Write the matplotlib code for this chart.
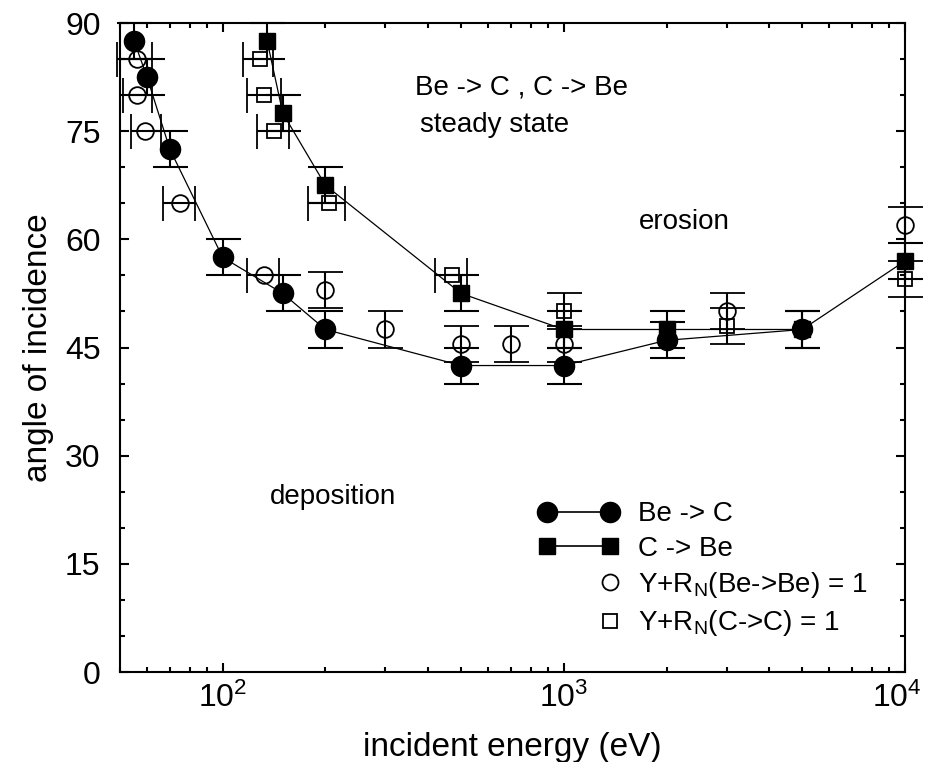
import matplotlib
matplotlib.use('Agg')
import matplotlib.pyplot as plt
import numpy as np
from matplotlib.lines import Line2D
from matplotlib.legend_handler import HandlerLine2D
from matplotlib.transforms import ScaledTranslation
from matplotlib.ticker import MultipleLocator, LogLocator, NullFormatter

plt.rcParams['font.family'] = ['Liberation Sans', 'DejaVu Sans']
plt.rcParams['mathtext.fontset'] = 'custom'
plt.rcParams['mathtext.rm'] = 'Liberation Sans'
plt.rcParams['mathtext.it'] = 'Liberation Sans:italic'
plt.rcParams['mathtext.bf'] = 'Liberation Sans:bold'

# Be -> C (filled circles)
energy_be_c = [55, 60, 70, 100, 150, 200, 500, 1000, 2000, 5000]
angle_be_c = [87.5, 82.5, 72.5, 57.5, 52.5, 47.5, 42.5, 42.5, 46, 47.5]

# C -> Be (filled squares)
energy_c_be = [135, 150, 200, 500, 1000, 2000, 5000, 10000]
angle_c_be = [87.5, 77.5, 67.5, 52.5, 47.5, 47.5, 47.5, 57]

# Y+R_N(Be->Be) = 1 (open circles); energy error 0 -> angle error bar instead
energy_be_be = [56, 56, 59, 75, 132, 200, 300, 500, 700, 1000, 3000, 10000]
angle_be_be = [85, 80, 75, 65, 55, 53, 47.5, 45.5, 45.5, 45.5, 50, 62]
elo_be_be = [7, 5, 5, 8, 14, 0, 0, 0, 0, 0, 0, 0]
ehi_be_be = [6, 6, 7, 8, 14, 0, 0, 0, 0, 0, 0, 0]

# Y+R_N(C->C) = 1 (open squares)
energy_c_c = [129, 132, 141, 205, 470, 1000, 3000, 10000]
angle_c_c = [85, 80, 75, 65, 55, 50, 48, 54.5]
elo_c_c = [14, 14, 15, 27, 50, 0, 0, 0]
ehi_c_c = [11, 16, 15, 24, 50, 0, 0, 0]

angle_err = 2.5

fig = plt.figure(figsize=(9.26, 7.62), dpi=100)
ax = fig.add_axes([0.1296, 0.1181, 0.8477, 0.8517])

eb = dict(color='black', elinewidth=1.5, capthick=1.5, capsize=12.6)
containers = []


def open_series(energy, angle, elo, ehi, marker, ms):
    energy, angle = np.array(energy), np.array(angle)
    elo, ehi = np.array(elo), np.array(ehi)
    h = elo > 0
    containers.append(ax.errorbar(energy[h], angle[h], xerr=[elo[h], ehi[h]],
                                  fmt=marker, ms=ms, mfc='none', mec='black',
                                  mew=1.3, zorder=2, **eb))
    containers.append(ax.errorbar(energy[~h], angle[~h], yerr=angle_err,
                                  fmt=marker, ms=ms, mfc='none', mec='black',
                                  mew=1.3, zorder=2, **eb))


open_series(energy_be_be, angle_be_be, elo_be_be, ehi_be_be, 'o', 12)
open_series(energy_c_c, angle_c_c, elo_c_c, ehi_c_c, 's', 10.5)

containers.append(ax.errorbar(energy_c_be, angle_c_be, yerr=angle_err, fmt='-s',
                              ms=12, lw=0.9, zorder=3, **eb))
containers.append(ax.errorbar(energy_be_c, angle_be_c, yerr=angle_err, fmt='-o',
                              ms=14.5, lw=0.9, zorder=4, **eb))
for c in containers:
    for a in c.get_children():
        a.set_clip_on(False)

ax.set_xscale('log')
ax.set_xlim(50, 1e4)
ax.set_ylim(0, 90)
ax.yaxis.set_major_locator(MultipleLocator(15))
ax.yaxis.set_minor_locator(MultipleLocator(5))
ax.xaxis.set_minor_locator(LogLocator(base=10, subs=np.arange(2, 10)))
ax.xaxis.set_minor_formatter(NullFormatter())
ax.tick_params(which='both', direction='in', top=True, right=True,
               width=1.5, labelsize=23)
ax.tick_params(which='major', length=6.5)
ax.tick_params(which='minor', length=3.8)
ax.tick_params(axis='y', pad=14)
ax.tick_params(axis='x', pad=8)
for s in ax.spines.values():
    s.set_linewidth(1.5)

ax.set_xlabel('incident energy (eV)', fontsize=24, labelpad=13)
ax.set_ylabel('angle of incidence', fontsize=24, labelpad=8)

ax.text(0.376, 0.901, 'Be -> C , C -> Be', transform=ax.transAxes,
        fontsize=20, va='center')
ax.text(0.382, 0.843, 'steady state', transform=ax.transAxes,
        fontsize=20, va='center')
ax.text(0.661, 0.694, 'erosion', transform=ax.transAxes,
        fontsize=20, va='center')
ax.text(0.191, 0.270, 'deposition', transform=ax.transAxes,
        fontsize=20, va='center')


class HandlerRightMarker(HandlerLine2D):
    # only the right hand marker, like the original legend
    def create_artists(self, *args, **kwargs):
        artists = super().create_artists(*args, **kwargs)
        for a in artists:
            a.set_markevery([1])
        return artists


h_bc = Line2D([], [], color='black', lw=1.2, marker='o', ms=14.5)
h_cb = Line2D([], [], color='black', lw=1.2, marker='s', ms=12)
h_bb = Line2D([], [], ls='none', marker='o', ms=11.5, mfc='none', mec='black',
              mew=1.3)
h_cc = Line2D([], [], ls='none', marker='s', ms=10.5, mfc='none', mec='black',
              mew=1.3)
labels = ['Be -> C', 'C -> Be', r'Y+R$_\mathregular{N}$(Be->Be) = 1',
          r'Y+R$_\mathregular{N}$(C->C) = 1']
ax.legend([h_bc, h_cb, h_bb, h_cc], labels, loc='upper left',
          bbox_to_anchor=(0.533, 0.263), frameon=False, fontsize=20,
          numpoints=2, handlelength=2.87, handletextpad=0.7,
          labelspacing=0.3, borderpad=0, borderaxespad=0,
          handler_map={h_bb: HandlerRightMarker(), h_cc: HandlerRightMarker()})

# pull the 10^4 label in a little so it stays on the canvas
fig.canvas.draw()
for t in ax.xaxis.get_major_ticks():
    if abs(t.get_loc() - 1e4) < 1:
        t.label1.set_transform(t.label1.get_transform()
                               + ScaledTranslation(-6 / 72, 0, fig.dpi_scale_trans))

fig.savefig('out.png', dpi=100)
